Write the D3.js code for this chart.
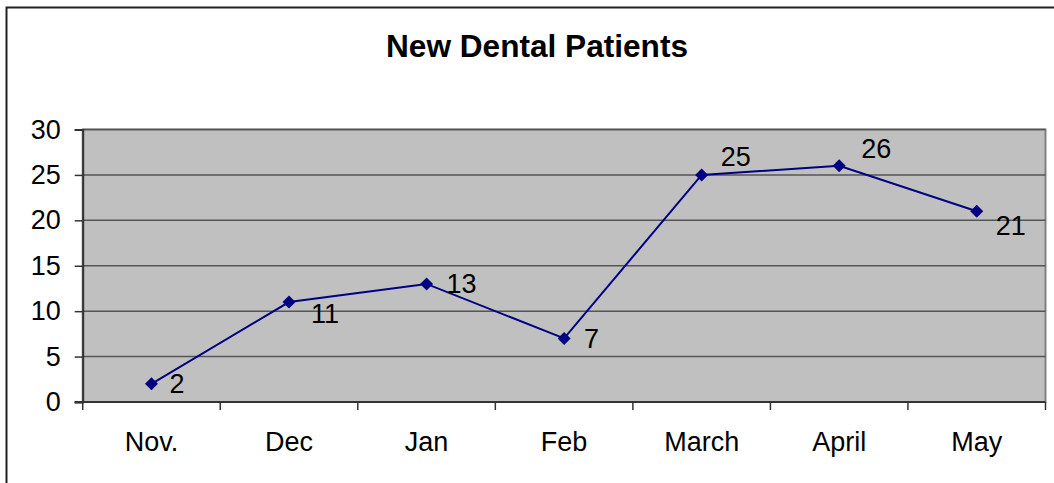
<!DOCTYPE html>
<html>
<head>
<meta charset="utf-8">
<script src="https://cdn.jsdelivr.net/npm/d3@7"></script>
<style>
  body { margin: 0; background: #fff; }
  svg { display: block; font-family: "Liberation Sans", Arial, sans-serif; }
</style>
</head>
<body>
<div id="chart"></div>
<script>
const months = ["Nov.", "Dec", "Jan", "Feb", "March", "April", "May"]
const patients = [2, 11, 13, 7, 25, 26, 21]
const yTicks = [0, 5, 10, 15, 20, 25, 30]
// label nudges (px) so numbers sit like in the original
const labelDx = [18, 22, 20, 20, 19, 22, 19]
const labelDy = [0, 11, 0, 0, -18, -17, 14]

const width = 1054
const height = 483
const plotLeft = 82.7, plotRight = 1045.5, plotTop = 129.5, plotBottom = 402
const fontSize = 27

const svg = d3.select("#chart")
    .append("svg")
    .attr("width", width)
    .attr("height", height)

// outer frame (only top and left edges fall inside the picture)
svg.append("rect")
    .attr("x", 6.5).attr("y", 7.5)
    .attr("width", 1100).attr("height", 600)
    .attr("fill", "none")
    .attr("stroke", "#222")
    .attr("stroke-width", 2)

svg.append("text")
    .attr("x", 537).attr("y", 57)
    .attr("text-anchor", "middle")
    .attr("font-size", 31.6)
    .attr("font-weight", "bold")
    .text("New Dental Patients")

const x = d3.scaleBand()
    .domain(months)
    .range([plotLeft, plotRight])
const y = d3.scaleLinear()
    .domain([0, 30])
    .range([plotBottom, plotTop])

// plot area
svg.append("rect")
    .attr("x", plotLeft).attr("y", plotTop)
    .attr("width", plotRight - plotLeft).attr("height", plotBottom - plotTop)
    .attr("fill", "#c0c0c0")
    .attr("stroke", "#808080")
    .attr("stroke-width", 2)

// gridlines
svg.append("g")
    .selectAll("line")
    .data(yTicks.filter(d => d > 0))
    .enter()
    .append("line")
    .attr("x1", plotLeft).attr("x2", plotRight)
    .attr("y1", d => y(d)).attr("y2", d => y(d))
    .attr("stroke", "#555")
    .attr("stroke-width", 1.5)

// y axis
const yAxis = svg.append("g")
    .attr("transform", `translate(${plotLeft},0)`)
    .call(d3.axisLeft(y).tickValues(yTicks).tickSize(8).tickPadding(14))
yAxis.select(".domain").attr("stroke", "#333").attr("stroke-width", 2)
yAxis.selectAll(".tick line").attr("stroke", "#333").attr("stroke-width", 1.5)
yAxis.selectAll("text")
    .attr("font-size", fontSize)
    .attr("font-family", "Liberation Sans, Arial, sans-serif")
    .attr("fill", "#000")

// x axis: labels centred, ticks on category boundaries
const xAxis = svg.append("g")
    .attr("transform", `translate(0,${plotBottom})`)
    .call(d3.axisBottom(x).tickSize(0).tickPadding(30))
xAxis.select(".domain").remove()
xAxis.selectAll("text")
    .attr("font-size", fontSize)
    .attr("font-family", "Liberation Sans, Arial, sans-serif")
    .attr("fill", "#000")

svg.append("line")
    .attr("x1", plotLeft - 8).attr("x2", plotRight)
    .attr("y1", plotBottom).attr("y2", plotBottom)
    .attr("stroke", "#333").attr("stroke-width", 2)

svg.append("g")
    .selectAll("line")
    .data(months.map(m => x(m)).concat([x.range()[1]]))
    .enter()
    .append("line")
    .attr("x1", d => d).attr("x2", d => d)
    .attr("y1", plotBottom).attr("y2", plotBottom + 8)
    .attr("stroke", "#333").attr("stroke-width", 1.5)

// series
const cx = (d, i) => x(months[i]) + x.bandwidth() / 2

svg.append("path")
    .datum(patients)
    .attr("fill", "none")
    .attr("stroke", "#000080")
    .attr("stroke-width", 2)
    .attr("d", d3.line().x(cx).y(d => y(d)))

svg.selectAll(".marker")
    .data(patients)
    .enter()
    .append("path")
    .attr("class", "marker")
    .attr("d", "M0,-6.5L6.5,0L0,6.5L-6.5,0Z")
    .attr("fill", "#000080")
    .attr("transform", (d, i) => `translate(${cx(d, i)},${y(d)})`)

svg.selectAll(".dlabel")
    .data(patients)
    .enter()
    .append("text")
    .attr("class", "dlabel")
    .attr("x", (d, i) => cx(d, i) + labelDx[i])
    .attr("y", (d, i) => y(d) + labelDy[i])
    .attr("dy", "0.35em")
    .attr("font-size", fontSize)
    .text(d => d)
</script>
</body>
</html>
